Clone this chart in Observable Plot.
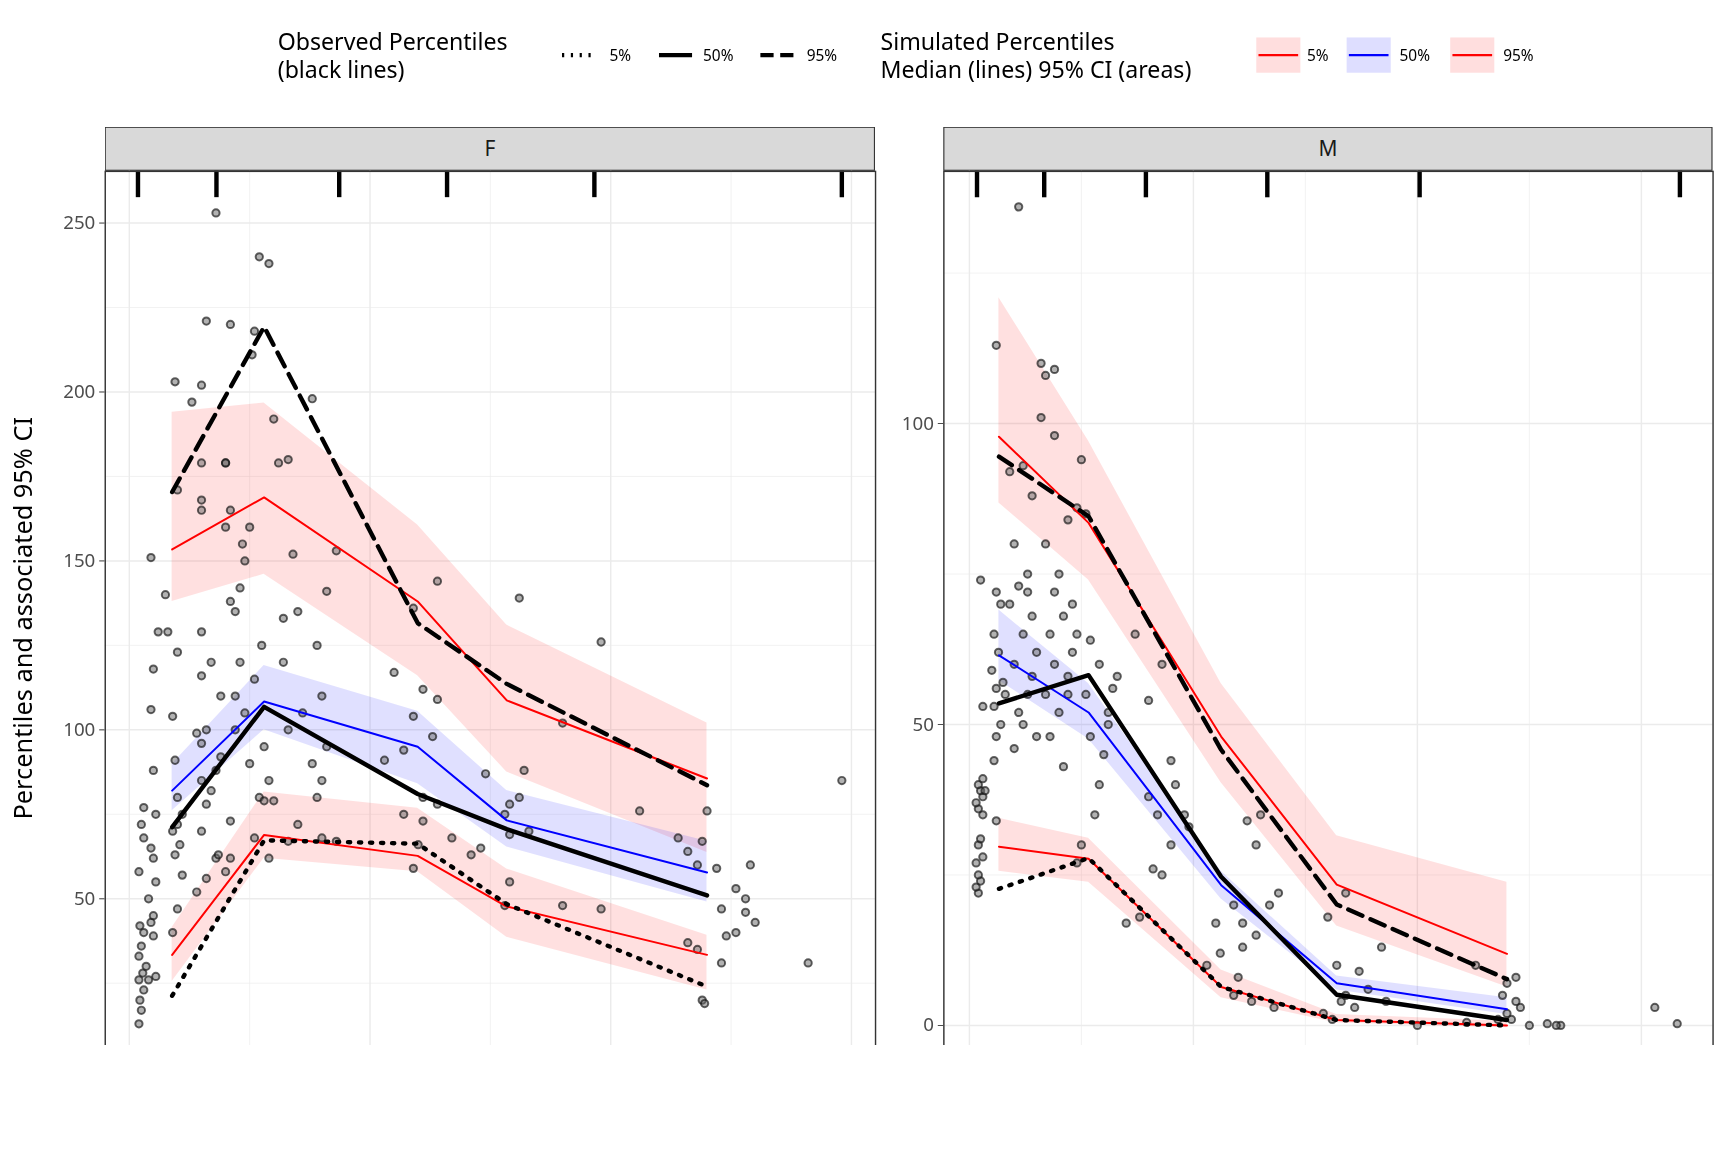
<!DOCTYPE html>
<html><head><meta charset="utf-8">
<script src="https://cdn.jsdelivr.net/npm/d3@7"></script>
<script src="https://cdn.jsdelivr.net/npm/@observablehq/plot@0.6"></script>
<style>
body{margin:0;background:#fff;font-family:"Noto Sans",sans-serif;overflow:hidden;}
#wrap{position:relative;width:1568px;height:1045px;transform:scale(1.102);transform-origin:0 0;}
.abs{position:absolute;}
.strip{position:absolute;top:115px;height:40px;background:#d9d9d9;border:1.5px solid #333;box-sizing:border-box;font-size:19px;color:#1a1a1a;display:flex;align-items:center;justify-content:center;}
</style></head><body>
<div id="wrap">
<svg class="abs" style="left:0;top:0" width="1568" height="100" font-family="Noto Sans" id="leg">
<text x="252" y="45" font-size="21" fill="#000">Observed Percentiles</text>
<text x="252" y="71" font-size="21" fill="#000">(black lines)</text>
<line x1="510" x2="540" y1="50" y2="50" stroke="#000" stroke-width="4" stroke-dasharray="2,6"/>
<text x="553" y="55" font-size="14">5%</text>
<line x1="598" x2="628" y1="50" y2="50" stroke="#000" stroke-width="4"/>
<text x="638" y="55" font-size="14">50%</text>
<line x1="690" x2="720" y1="50" y2="50" stroke="#000" stroke-width="4" stroke-dasharray="12,6"/>
<text x="732" y="55" font-size="14">95%</text>
<text x="799" y="45" font-size="21">Simulated Percentiles</text>
<text x="799" y="71" font-size="21">Median (lines) 95% CI (areas)</text>
<rect x="1140" y="34" width="40" height="32" fill="#ffdede"/>
<line x1="1142" x2="1178" y1="50" y2="50" stroke="red" stroke-width="2"/>
<text x="1186" y="55" font-size="14">5%</text>
<rect x="1222" y="34" width="40" height="32" fill="#dedeff"/>
<line x1="1224" x2="1260" y1="50" y2="50" stroke="blue" stroke-width="2"/>
<text x="1270" y="55" font-size="14">50%</text>
<rect x="1316" y="34" width="40" height="32" fill="#ffdede"/>
<line x1="1318" x2="1354" y1="50" y2="50" stroke="red" stroke-width="2"/>
<text x="1364" y="55" font-size="14">95%</text>
</svg>
<div class="strip" style="left:95px;width:699px">F</div>
<div class="strip" style="left:856px;width:698px">M</div>
<div id="pF" class="abs" style="left:0;top:0"></div>
<div id="pM" class="abs" style="left:800px;top:0"></div>
<div class="abs" style="left:793px;top:999px;font-size:23px;">TIME</div>
<div class="abs" style="left:-190px;top:545px;width:420px;text-align:center;font-size:23px;transform:rotate(-90deg);">Percentiles and associated 95% CI</div>
</div>
<script>
// ---- data ----
const binF = [0.89, 2.8, 5.99, 7.84, 12.0];
const binM = [0.66, 2.66, 5.62, 8.2, 12.0];
const simF05 = [33.4, 68.9, 62.7, 47.7, 33.4];
const simF50 = [82, 108.4, 95, 73.2, 57.8];
const simF95 = [153.4, 168.8, 138, 108.7, 85.6];
const ciF05lo = [25.5, 62, 58, 38.6, 23], ciF05hi = [41.5, 81.6, 76.8, 58.8, 39.2];
const ciF50lo = [76, 100, 84, 65.3, 49], ciF50hi = [89.8, 119, 105.5, 82, 67];
const ciF95lo = [138, 146, 116, 87.5, 63.7], ciF95hi = [194, 196.7, 160.6, 131, 102];
const obsF05 = [21.3, 67.3, 66.3, 48.4, 24];
const obsF50 = [71.2, 106.8, 81, 70.6, 51];
const obsF95 = [170.4, 219.3, 131.6, 113.6, 83.6];
const simM05 = [29.7, 27.7, 6.4, 0.9, 0];
const simM50 = [61.5, 52, 23.3, 7, 2.7];
const simM95 = [97.8, 83.5, 48, 23.4, 11.9];
const ciM05lo = [25.6, 23.8, 4.6, 0.4, -0.4], ciM05hi = [34.4, 31.1, 9.2, 1.8, 0.7];
const ciM50lo = [57.3, 47.6, 21, 5.9, 1.8], ciM50hi = [69, 56.8, 25.6, 8.2, 4.6];
const ciM95lo = [86.8, 74, 40.3, 16.5, 6.4], ciM95hi = [120.9, 97.1, 56.8, 31.5, 23.8];
const obsM05 = [22.7, 27.8, 6.4, 0.9, 0];
const obsM50 = [53.5, 58.2, 24.7, 5.1, 0.9];
const obsM95 = [94.5, 84.6, 45.8, 20.1, 7.7];
const rugF = [0.18, 1.81, 4.36, 6.6, 9.66, 14.8];
const rugM = [0.17, 1.67, 3.94, 6.65, 10.05, 15.86];
const ptsF = [
[0.2,13],[0.25,17],[0.22,20],[0.3,23],[0.2,26],[0.28,28],[0.35,30],[0.2,33],[0.25,36],[0.3,40],[0.22,42],[0.45,43],[0.5,45],[0.4,50],[0.55,55],[0.2,58],[0.5,62],[0.45,65],[0.3,68],[0.25,72],[0.55,75],[0.3,77],[0.5,88],[0.45,106],[0.5,118],[0.6,129],[0.45,151],[0.5,39],[0.55,27],[0.4,26],
[0.9,40],[1.0,47],[1.1,57],[0.95,63],[1.05,66],[0.9,70],[1.0,72],[1.1,75],[1.0,80],[0.95,91],[0.9,104],[1.0,123],[1.0,171],[0.95,203],[0.75,140],[0.8,129],
[1.4,52],[1.6,56],[1.8,62],[1.5,70],[1.6,78],[1.7,82],[1.5,85],[1.8,88],[1.9,92],[1.5,96],[1.4,99],[1.6,100],[1.9,110],[1.5,116],[1.7,120],[1.5,129],[2.0,160],[1.5,165],[1.5,168],[2.0,179],[1.3,197],[1.5,202],[1.6,221],[1.8,253],[1.85,63],[1.5,179],
[2.0,58],[2.1,62],[2.6,68],[2.1,73],[2.7,80],[2.9,85],[2.5,90],[2.8,95],[2.2,100],[2.4,105],[2.2,110],[2.6,115],[2.3,120],[2.75,125],[2.2,135],[2.1,138],[2.3,142],[2.4,150],[2.35,155],[2.5,160],[2.1,165],[2.0,179],[2.55,211],[2.6,218],[2.1,220],[2.9,238],[2.7,240],[2.9,62],[3.0,79],[2.8,79],
[3.3,67],[3.5,72],[3.9,80],[4.0,85],[3.8,90],[4.1,95],[3.3,100],[3.6,105],[4.0,110],[3.2,120],[3.9,125],[3.2,133],[3.5,135],[4.1,141],[3.4,152],[4.3,153],[3.3,180],[3.8,198],[3.1,179],[3.0,192],
[5.9,59],[6.0,66],[4.3,67],[4.0,68],[5.7,75],[6.4,78],[6.1,80],[5.3,91],[5.7,94],[6.3,98],[5.9,104],[6.4,109],[6.1,112],[5.5,117],[5.9,136],[6.4,144],[6.7,68],[6.1,73],
[7.8,48],[7.9,55],[7.1,63],[7.3,65],[7.9,69],[8.3,70],[7.8,75],[7.9,78],[8.1,80],[8.2,88],[8.1,139],[7.4,87],
[9.8,47],[9.0,48],[11.8,60],[11.6,64],[11.9,67],[11.4,68],[10.6,76],[9.0,102],[9.8,126],[11.8,35],[11.6,37],[11.9,20],[11.95,19],[12.0,76],
[12.3,31],[12.4,39],[12.6,40],[13.0,43],[12.3,47],[12.8,50],[12.6,53],[12.9,60],[14.8,85],[14.1,31],[12.2,59],[12.8,46]
];
const ptsM = [
[0.2,22],[0.15,23],[0.25,24],[0.2,25],[0.15,27],[0.3,28],[0.2,30],[0.25,31],[0.3,35],[0.2,36],[0.15,37],[0.3,38],[0.25,39],[0.2,40],[0.3,41],[0.3,53],[0.25,74],[0.35,39],
[0.6,34],[0.55,44],[0.6,48],[0.7,50],[0.55,53],[0.6,56],[0.75,57],[0.5,59],[0.65,62],[0.55,65],[0.7,70],[0.6,72],[0.6,113],[0.8,55],
[1.0,46],[1.2,50],[1.1,52],[1.3,55],[1.4,58],[1.0,60],[1.5,62],[1.2,65],[1.4,68],[0.9,70],[1.1,73],[1.3,75],[1.0,80],[1.4,88],[0.9,92],[1.2,93],[1.1,136],[1.3,72],[1.5,48],
[2.1,43],[1.8,48],[2.0,52],[1.7,55],[2.2,58],[1.9,60],[2.3,62],[1.8,65],[2.1,68],[2.3,70],[1.9,72],[2.0,75],[1.7,80],[2.2,84],[2.4,86],[1.9,98],[1.6,101],[1.7,108],[1.9,109],[1.6,110],[2.4,65],[2.2,55],
[2.4,27],[2.5,30],[2.8,35],[2.9,40],[3.0,45],[2.7,48],[3.1,50],[2.6,55],[3.3,58],[2.9,60],[3.2,56],[2.6,85],[2.5,94],[2.7,64],[3.1,52],
[3.5,17],[3.8,18],[4.3,25],[4.1,26],[4.5,30],[4.9,33],[4.2,35],[4.0,38],[4.6,40],[4.5,44],[4.0,54],[4.3,60],[3.7,65],[4.8,35],
[6.8,3],[6.3,4],[5.9,5],[6.0,8],[5.3,10],[5.6,12],[6.1,13],[6.4,15],[5.5,17],[6.7,20],[6.9,22],[6.4,30],[6.2,34],[6.5,35],[5.9,20],[6.1,17],
[8.1,1],[7.9,2],[8.6,3],[8.3,4],[8.4,5],[8.9,6],[8.2,10],[9.2,13],[8.0,18],[8.4,22],[8.7,9],[9.3,4],
[10.0,0],[11.1,0.5],[11.8,1],[12.1,1],[12.0,2],[12.3,3],[12.2,4],[11.9,5],[12.0,7],[12.2,8],[11.3,10],[12.5,0],[13.2,0],[12.9,0.3],[13.1,0],
[15.3,3],[15.8,0.3]
];
const band = (t, lo, hi) => t.map((x,i)=>({t:x, lo:lo[i], hi:hi[i]}));
const line = (t, v) => t.map((x,i)=>({t:x, v:v[i]}));
function panel(cfg){
  return Plot.plot({
    width: cfg.width, height: 1050,
    marginLeft: cfg.ml, marginRight: cfg.mr, marginTop: 155, marginBottom: 85,
    style:{fontFamily:"Noto Sans", fontSize:"17px", color:"#4d4d4d", background:"transparent"},
    x:{domain:cfg.xd, ticks:[0,5,10,15], tickSize:5, tickPadding:4, label:null},
    y:{domain:cfg.yd, ticks:cfg.yt, tickSize:5, tickPadding:4, label:null},
    marks:[
      Plot.gridX(cfg.xminor,{stroke:"#ebebeb", strokeOpacity:1, strokeWidth:0.6}),
      Plot.gridY(cfg.yminor,{stroke:"#ebebeb", strokeOpacity:1, strokeWidth:0.6}),
      Plot.gridX([0,5,10,15],{stroke:"#ebebeb", strokeOpacity:1, strokeWidth:1.3}),
      Plot.gridY(cfg.yt,{stroke:"#ebebeb", strokeOpacity:1, strokeWidth:1.3}),
      Plot.areaY(band(cfg.t,cfg.c95lo,cfg.c95hi),{x:"t",y1:"lo",y2:"hi",fill:"red",fillOpacity:0.12}),
      Plot.areaY(band(cfg.t,cfg.c50lo,cfg.c50hi),{x:"t",y1:"lo",y2:"hi",fill:"blue",fillOpacity:0.12}),
      Plot.areaY(band(cfg.t,cfg.c05lo,cfg.c05hi),{x:"t",y1:"lo",y2:"hi",fill:"red",fillOpacity:0.12}),
      Plot.dot(cfg.pts,{x:d=>d[0],y:d=>d[1],r:3.3,fill:"#666",fillOpacity:0.5,stroke:"#111",strokeOpacity:0.65,strokeWidth:1.8}),
      Plot.line(line(cfg.t,cfg.s05),{x:"t",y:"v",stroke:"red",strokeWidth:1.8}),
      Plot.line(line(cfg.t,cfg.s95),{x:"t",y:"v",stroke:"red",strokeWidth:1.8}),
      Plot.line(line(cfg.t,cfg.s50),{x:"t",y:"v",stroke:"blue",strokeWidth:1.8}),
      Plot.line(line(cfg.t,cfg.o05),{x:"t",y:"v",stroke:"#000",strokeWidth:4,strokeDasharray:"2,8"}),
      Plot.line(line(cfg.t,cfg.o50),{x:"t",y:"v",stroke:"#000",strokeWidth:4}),
      Plot.line(line(cfg.t,cfg.o95),{x:"t",y:"v",stroke:"#000",strokeWidth:4,strokeDasharray:"14,8"}),
      Plot.ruleX(cfg.rug,{y1:cfg.yd[1], y2:cfg.yd[1]-cfg.rugLen, stroke:"#000", strokeWidth:4}),
      Plot.frame({stroke:"#333", strokeWidth:1.3})
    ]
  });
}
document.getElementById("pF").append(panel({
  width:800, ml:95, mr:6, xd:[-0.5,15.5], yd:[1.1,265.3], yt:[50,100,150,200,250],
  xminor:[2.5,7.5,12.5], yminor:[25,75,125,175,225],
  t:binF, c05lo:ciF05lo,c05hi:ciF05hi,c50lo:ciF50lo,c50hi:ciF50hi,c95lo:ciF95lo,c95hi:ciF95hi,
  s05:simF05,s50:simF50,s95:simF95,o05:obsF05,o50:obsF50,o95:obsF95,pts:ptsF,rug:rugF,rugLen:7.8
}));
document.getElementById("pM").append(panel({
  width:760, ml:56, mr:6, xd:[-0.57,16.6], yd:[-6.4,141.9], yt:[0,50,100],
  xminor:[2.5,7.5,12.5], yminor:[25,75,125],
  t:binM, c05lo:ciM05lo,c05hi:ciM05hi,c50lo:ciM50lo,c50hi:ciM50hi,c95lo:ciM95lo,c95hi:ciM95hi,
  s05:simM05,s50:simM50,s95:simM95,o05:obsM05,o50:obsM50,o95:obsM95,pts:ptsM,rug:rugM,rugLen:4.4
}));
</script>
</body></html>
